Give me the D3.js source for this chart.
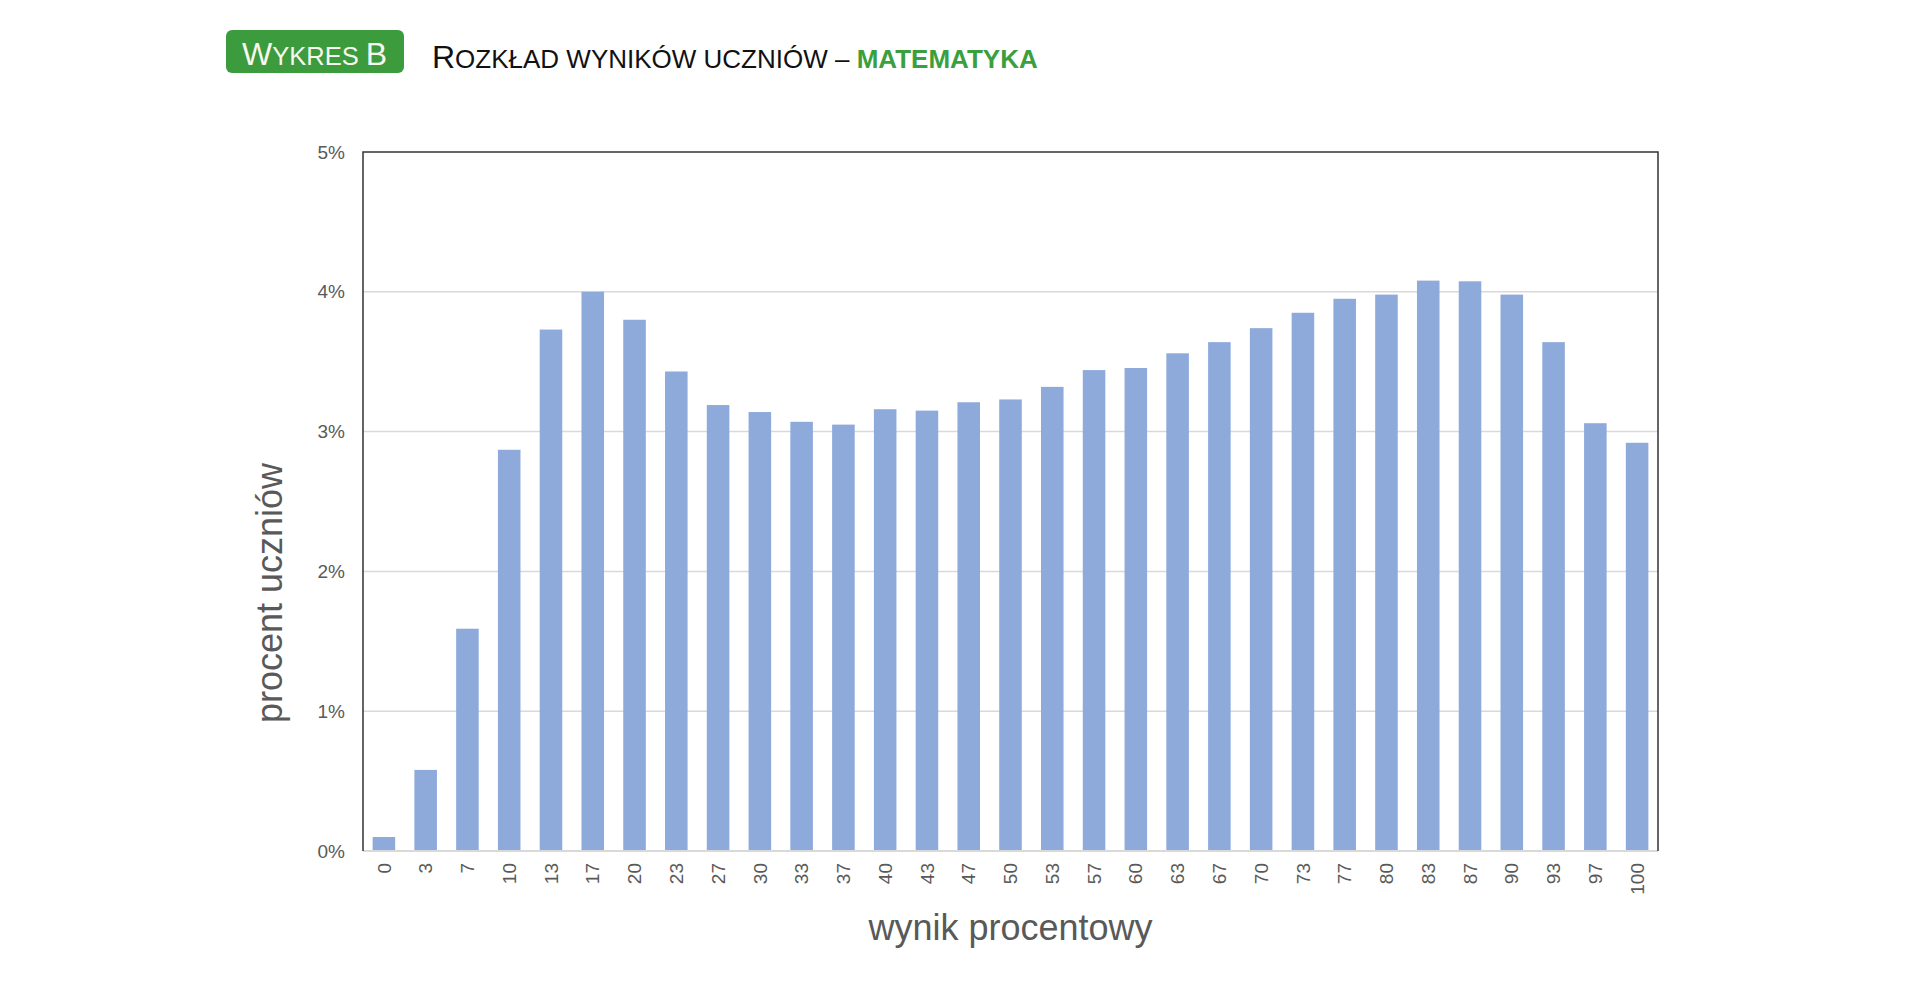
<!DOCTYPE html>
<html lang="pl">
<head>
<meta charset="utf-8">
<script src="https://cdn.jsdelivr.net/npm/d3@7"></script>
<style>
  html, body { margin: 0; padding: 0; background: #fff; }
  svg { display: block; font-family: "Liberation Sans", Arial, sans-serif; }
</style>
</head>
<body>
<svg id="chart" width="1920" height="1006"></svg>
<script>
const scores = ['0', '3', '7', '10', '13', '17', '20', '23', '27', '30', '33', '37', '40', '43', '47',
  '50', '53', '57', '60', '63', '67', '70', '73', '77', '80', '83', '87', '90', '93', '97', '100'];
const shares = [0.10, 0.58, 1.59, 2.87, 3.73, 4.00, 3.80, 3.43, 3.19, 3.14, 3.07, 3.05, 3.16, 3.15, 3.21,
  3.23, 3.32, 3.44, 3.455, 3.56, 3.64, 3.74, 3.85, 3.95, 3.98, 4.08, 4.075, 3.98, 3.64, 3.06, 2.92];
const yTicks = [0, 1, 2, 3, 4, 5];

const margin = { top: 152, right: 262, bottom: 155, left: 363 };
const svg = d3.select('#chart');
const width = +svg.attr('width') - margin.left - margin.right;
const height = +svg.attr('height') - margin.top - margin.bottom;

const x = d3.scaleBand().domain(scores).range([0, width]).paddingInner(0.46).paddingOuter(0.23);
const y = d3.scaleLinear().domain([0, 5]).range([height, 0]);

// header: badge + small-caps title
const badge = svg.append('g');
badge.append('rect')
  .attr('x', 226).attr('y', 30).attr('width', 178).attr('height', 43).attr('rx', 6)
  .style('fill', '#3b9b3d');
const badgeText = badge.append('text')
  .attr('x', 242).attr('y', 65)
  .style('fill', '#f7f7ee');
badgeText.append('tspan').style('font-size', '32px').text('W');
badgeText.append('tspan').style('font-size', '25.5px').text('YKRES ');
badgeText.append('tspan').style('font-size', '32px').text('B');

const title = svg.append('text').attr('x', 432).attr('y', 68).style('fill', '#111');
title.append('tspan').style('font-size', '32px').text('R');
title.append('tspan').style('font-size', '26px').text('OZKŁAD WYNIKÓW UCZNIÓW – ');
title.append('tspan').style('font-size', '26px').style('font-weight', 'bold').style('fill', '#3aa03d')
  .text('MATEMATYKA');

const g = svg.append('g').attr('transform', `translate(${margin.left},${margin.top})`);

g.append('g')
  .selectAll('line')
  .data(yTicks.slice(1, -1))
  .enter()
  .append('line')
  .attr('x1', 0).attr('x2', width)
  .attr('y1', d => y(d)).attr('y2', d => y(d))
  .style('stroke', '#d9d9d9').style('stroke-width', 1.5);

g.append('g')
  .selectAll('rect')
  .data(scores.map((s, i) => ({ score: s, value: shares[i] })))
  .enter()
  .append('rect')
  .attr('x', d => x(d.score))
  .attr('y', d => y(d.value))
  .attr('width', x.bandwidth())
  .attr('height', d => y(0) - y(d.value))
  .style('fill', '#8eaadb');

// plot frame: dark top/left/right, light baseline
g.append('line').attr('x1', 0).attr('x2', width).attr('y1', y(0)).attr('y2', y(0))
  .style('stroke', '#d9d9d9').style('stroke-width', 2);
g.append('path')
  .attr('d', `M0,${y(0)}V0H${width}V${y(0)}`)
  .style('fill', 'none').style('stroke', '#333').style('stroke-width', 1.5);

const yAxis = g.append('g')
  .call(d3.axisLeft(y).tickValues(yTicks).tickFormat(d => `${d}%`).tickSize(0).tickPadding(18));
yAxis.select('.domain').remove();
yAxis.selectAll('text').style('font-size', '19px').style('fill', '#595959').style('font-family', null);

const xAxis = g.append('g')
  .attr('transform', `translate(0,${height})`)
  .call(d3.axisBottom(x).tickSize(0));
xAxis.select('.domain').remove();
xAxis.selectAll('text')
  .attr('transform', 'rotate(-90)')
  .attr('x', -12).attr('y', 0).attr('dy', '0.35em')
  .style('text-anchor', 'end')
  .style('font-size', '19px').style('fill', '#595959').style('font-family', null);

svg.append('text')
  .attr('x', margin.left + width / 2).attr('y', 940)
  .style('text-anchor', 'middle').style('font-size', '36px').style('fill', '#595959')
  .text('wynik procentowy');

svg.append('text')
  .attr('transform', 'translate(282,593) rotate(-90)')
  .style('text-anchor', 'middle').style('font-size', '36px').style('fill', '#595959')
  .text('procent uczniów');
</script>
</body>
</html>
